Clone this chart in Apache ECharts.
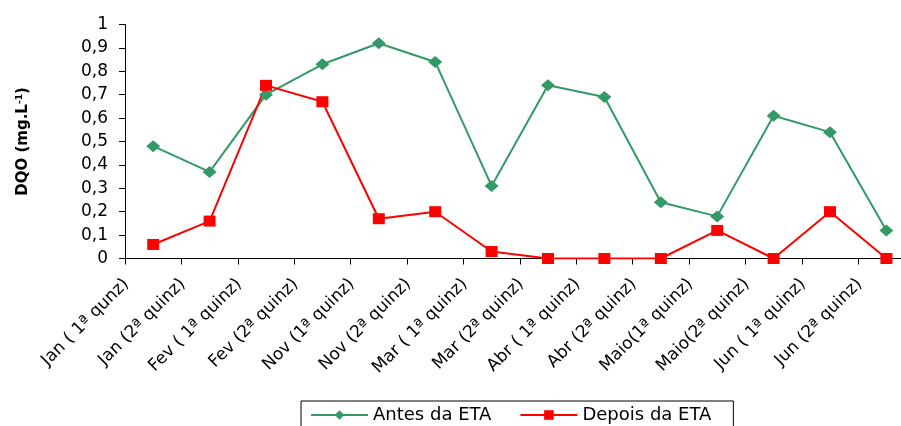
<!DOCTYPE html>
<html>
<head>
<meta charset="utf-8">
<script src="https://cdn.jsdelivr.net/npm/echarts@6/dist/echarts.min.js"></script>
<style>
  html, body { margin: 0; padding: 0; background: #fff; }
  #chart { width: 901px; height: 426px; }
</style>
</head>
<body>
<div id="chart"></div>
<script>
// Fortnightly sampling periods
const categories = [
  'Jan ( 1ª qunz)', 'Jan (2ª quinz)',
  'Fev ( 1ª quinz)', 'Fev (2ª quinz)',
  'Nov (1ª quinz)', 'Nov (2ª quinz)',
  'Mar ( 1ª quinz)', 'Mar (2ª quinz)',
  'Abr ( 1ª quinz)', 'Abr (2ª quinz)',
  'Maio(1ª quinz)', 'Maio(2ª quinz)',
  'Jun ( 1ª quinz)', 'Jun (2ª quinz)'
];

// DQO (mg.L-1) before and after treatment
const antesETA  = [0.48, 0.37, 0.70, 0.83, 0.92, 0.84, 0.31, 0.74, 0.69, 0.24, 0.18, 0.61, 0.54, 0.12];
const depoisETA = [0.06, 0.16, 0.74, 0.67, 0.17, 0.20, 0.03, 0.00, 0.00, 0.00, 0.12, 0.00, 0.20, 0.00];

const yTickLabels = ['0', '0,1', '0,2', '0,3', '0,4', '0,5', '0,6', '0,7', '0,8', '0,9', '1'];

const seriesNames = ['Antes da ETA', 'Depois da ETA'];

const FONT = 'DejaVu Sans';
const chart = echarts.init(document.getElementById('chart'), null, { renderer: 'canvas' });

chart.setOption({
  animation: false,
  backgroundColor: '#ffffff',
  grid: {
    left: 125,
    top: 24.5,
    width: 14 * 56.4,
    height: 234,
    outerBoundsMode: 'none'
  },
  legend: {
    data: seriesNames,
    left: 301,
    top: 401,
    orient: 'horizontal',
    padding: [5, 22, 20, 9],
    itemWidth: 57,
    itemHeight: 12,
    itemGap: 28,
    borderColor: '#000',
    borderWidth: 1,
    textStyle: { fontFamily: FONT, fontSize: 18, color: '#000' }
  },
  xAxis: {
    type: 'category',
    data: categories,
    boundaryGap: true,
    axisLine: { show: true, lineStyle: { color: '#000', width: 1 } },
    axisTick: { show: true, length: 6, lineStyle: { color: '#000', width: 1 } },
    splitLine: { show: false },
    axisLabel: {
      interval: 0,
      rotate: 45,
      margin: -4,
      padding: [0, 38, 0, 0],
      fontFamily: FONT,
      fontSize: 17,
      color: '#000'
    }
  },
  yAxis: {
    type: 'value',
    min: 0,
    max: 1,
    interval: 0.1,
    axisLine: { show: true, lineStyle: { color: '#000', width: 1 } },
    axisTick: { show: true, length: 6, lineStyle: { color: '#000', width: 1 } },
    splitLine: { show: false },
    axisLabel: {
      margin: 17,
      fontFamily: FONT,
      fontSize: 17,
      color: '#000',
      formatter: function (v) { return yTickLabels[Math.round(v * 10)]; }
    },
    name: '{t|DQO (mg.L}{s|-1}{t|)}',
    nameLocation: 'middle',
    nameRotate: 90,
    nameGap: 93,
    nameMoveOverlap: false,
    nameTextStyle: {
      rich: {
        t: { fontFamily: FONT, fontWeight: 'bold', fontSize: 15, color: '#000' },
        s: { fontFamily: FONT, fontWeight: 'bold', fontSize: 9, color: '#000', padding: [0, 0, 8, 0] }
      }
    }
  },
  series: [
    {
      name: seriesNames[0],
      type: 'line',
      data: antesETA,
      symbol: 'diamond',
      symbolSize: [14, 12],
      lineStyle: { color: '#339966', width: 2 },
      itemStyle: { color: '#339966' }
    },
    {
      name: seriesNames[1],
      type: 'line',
      data: depoisETA,
      symbol: 'rect',
      symbolSize: [12, 11],
      lineStyle: { color: '#ff0000', width: 2 },
      itemStyle: { color: '#ff0000' }
    }
  ]
});
</script>
</body>
</html>
